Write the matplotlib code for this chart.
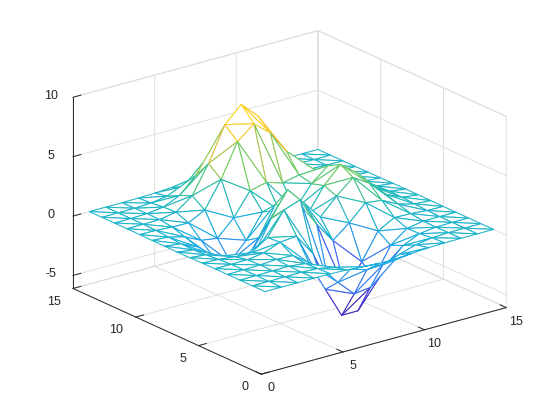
import numpy as np
import matplotlib
matplotlib.use('Agg')
import matplotlib.pyplot as plt
from matplotlib.colors import LinearSegmentedColormap
from mpl_toolkits.mplot3d.art3d import Poly3DCollection

plt.rcParams['font.family'] = ['Liberation Sans', 'DejaVu Sans']
plt.rcParams['axes.linewidth'] = 0.6
plt.rcParams['axes.unicode_minus'] = False

grid_x = list(range(1, 16))
grid_y = list(range(1, 16))
z_rows = [
    [0, 0, 0, .01, 0, -.05, -.15, -.24, -.23, -.14, -.05, -.01, 0, 0, 0],
    [0, 0, .01, .02, -.04, -.31, -.83, -1.26, -1.19, -.72, -.28, -.07, -.01, 0, 0],
    [0, .01, .03, .05, -.10, -.87, -2.42, -3.76, -3.58, -2.16, -.82, -.20, -.03, 0, 0],
    [0, .01, .05, .14, .09, -.92, -3.48, -6.05, -6.04, -3.63, -1.28, -.24, 0, .01, 0],
    [0, -.01, .01, .21, .73, .87, -.94, -3.98, -4.86, -2.78, -.56, .19, .15, .04, .01],
    [-.01, -.07, -.23, -.26, .64, 2.59, 3.06, .66, -1.10, .01, 1.34, 1.16, .47, .11, .02],
    [-.03, -.17, -.65, -1.40, -1.09, 1.43, 3.43, 1.94, .40, 1.79, 2.98, 2.12, .82, .19, .03],
    [-.04, -.23, -.93, -2.26, -2.78, -.70, 1.69, .98, .20, 2.20, 3.59, 2.52, .97, .22, .03],
    [-.03, -.20, -.83, -2.08, -2.82, -1.40, .61, .41, .12, 1.88, 3.00, 2.09, .80, .18, .03],
    [-.02, -.12, -.47, -1.14, -1.34, .01, 1.92, 2.26, 1.83, 2.12, 2.14, 1.32, .48, .11, .01],
    [-.01, -.04, -.13, -.15, .56, 2.77, 5.58, 6.71, 5.58, 3.64, 1.97, .83, .25, .05, .01],
    [0, 0, .02, .27, 1.29, 3.63, 6.52, 7.84, 6.52, 3.88, 1.69, .55, .13, .02, 0],
    [0, 0, .04, .22, .83, 2.17, 3.80, 4.57, 3.80, 2.22, .91, .27, .06, .01, 0],
    [0, 0, .01, .08, .28, .72, 1.26, 1.51, 1.26, .73, .29, .08, .02, 0, 0],
    [0, 0, 0, .02, .06, .14, .24, .29, .24, .14, .06, .02, 0, 0, 0],
]
x_ticks = [0, 5, 10, 15]
y_ticks = [0, 5, 10, 15]
z_ticks = [-5, 0, 5, 10]
parula_stops = ['#3e26a8', '#4745f0', '#2d8ff0', '#18aee0', '#24bcb0',
                '#70cc62', '#e8bc3a', '#fcce2e', '#f9fb15']

Z = np.array(z_rows)
X, Y = np.meshgrid(grid_x, grid_y)
parula = LinearSegmentedColormap.from_list('parula', parula_stops)

# two triangles per grid cell, split along the anti-diagonal
tris = []
tri_z = []
n = len(grid_x)
for j in range(n - 1):
    for i in range(n - 1):
        for cell in ([(i, j), (i + 1, j), (i, j + 1)], [(i + 1, j), (i + 1, j + 1), (i, j + 1)]):
            tris.append([(X[b, a], Y[b, a], Z[b, a]) for a, b in cell])
            heights = [Z[b, a] for a, b in cell]
            # lean towards the low corner, the edges in the chart look that way
            tri_z.append((min(heights) + np.mean(heights)) / 2)

norm = plt.Normalize(Z.min(), Z.max())
edge_colors = parula(norm(np.array(tri_z)))

fig = plt.figure(figsize=(5.6, 4.2), dpi=100)
ax = fig.add_axes([0.132, 0.0045, 0.75, 1.0], projection='3d', proj_type='ortho')
ax.view_init(elev=20.6, azim=-127.7)
ax.set_box_aspect((309.7, 308, 204.4), zoom=1.114)

mesh = Poly3DCollection(tris, facecolors='white', edgecolors=edge_colors, linewidths=0.75)
ax.add_collection3d(mesh)

ax.set_xlim(0, 15)
ax.set_ylim(0, 15)
ax.set_zlim(-6.1, 10)
ax.set_xticks(x_ticks)
ax.set_yticks(y_ticks)
ax.set_zticks(z_ticks)
ax.tick_params(labelsize=9, pad=0, colors='#262626')

for axis in (ax.xaxis, ax.yaxis, ax.zaxis):
    axis.set_pane_color((1, 1, 1, 1))
    axis.pane.set_edgecolor('#dcdcdc')
    axis.pane.set_linewidth(0.7)
    axis.line.set_color('#262626')
    axis.line.set_linewidth(0.7)
    axis._axinfo['grid']['color'] = '#dfdfdf'
    axis._axinfo['grid']['linewidth'] = 0.7
    axis._axinfo['tick']['inward_factor'] = 0
    axis._axinfo['tick']['outward_factor'] = 0.4
    axis._axinfo['tick']['linewidth'] = {True: 0.7, False: 0.5}
    for label in axis.get_ticklabels():
        label.set_va('center')
for label in ax.yaxis.get_ticklabels():
    label.set_ha('right')

fig.savefig('out.png', dpi=100)
